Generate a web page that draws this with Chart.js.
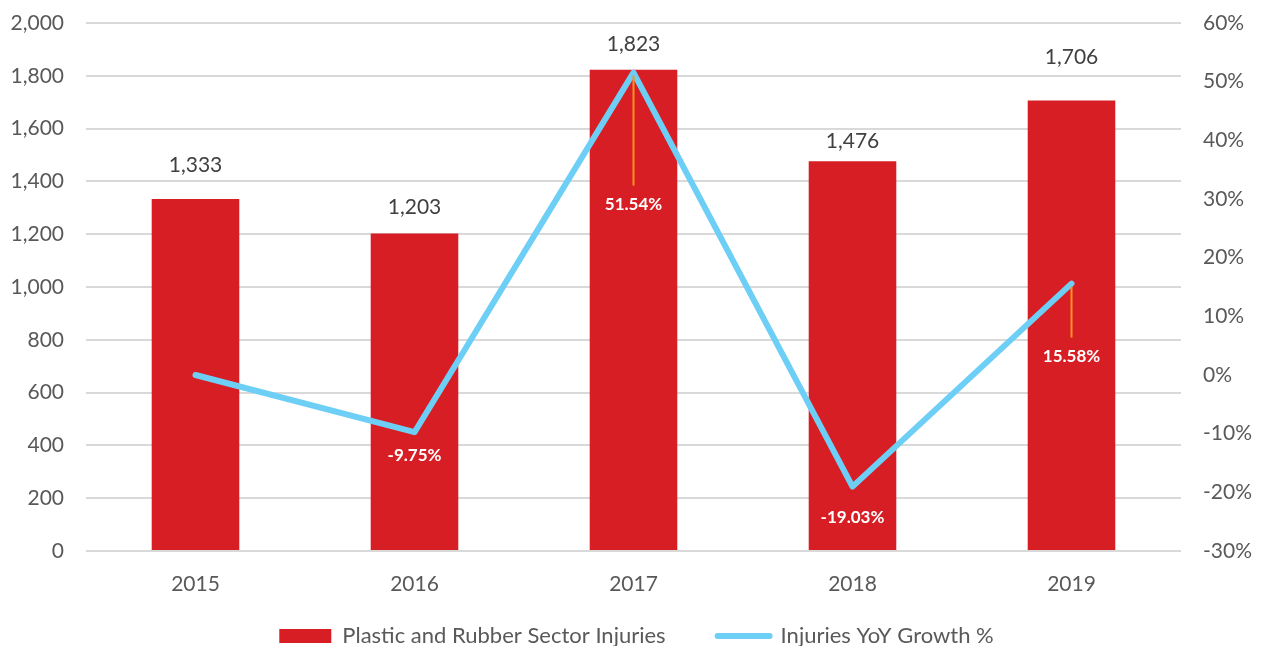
<!DOCTYPE html>
<html><head><meta charset="utf-8">
<script src="https://cdn.jsdelivr.net/npm/chart.js@4"></script>
<style>html,body{margin:0;padding:0;background:#fff}#wrap{width:1261px;height:646px}</style>
</head><body><div id="wrap"><canvas id="c" width="1261" height="646"></canvas></div>
<script>
const categories = ['2015','2016','2017','2018','2019'];
const injuries = [1333, 1203, 1823, 1476, 1706];
const yoyGrowth = [0, -9.75, 51.54, -19.03, 15.58];
const yoyLabels = [null, '-9.75%', '51.54%', '-19.03%', '15.58%'];
const leftTicks = {min:0, max:2000, step:200};
const rightTicks = {min:-30, max:60, step:10};

const FONT = "Lato, 'Open Sans', sans-serif";
// label placement styles (pixel distances of the value labels from their marks)
const barLabelGap = [34, 26, 25, 20, 43];
const lineLabelStyle = [null, {dy:23, leader:false}, {dy:132, leader:true}, {dy:31, leader:false}, {dy:73, leader:true}];
const legendShift = {dx:6, dy:-24};

const labelsPlugin = {
  id:'labels',
  afterLayout(chart){
    const lg = chart.legend;
    if(lg){ lg.top += legendShift.dy; lg.left += legendShift.dx; lg.right += legendShift.dx; }
  },
  afterDatasetsDraw(chart){
    const ctx = chart.ctx;
    const barMeta = chart.getDatasetMeta(1);
    ctx.save();
    ctx.textAlign='center'; ctx.textBaseline='middle';
    ctx.font = "21px " + FONT; ctx.fillStyle='#404040';
    barMeta.data.forEach((b,i)=>{
      ctx.fillText(injuries[i].toLocaleString('en-US'), b.x, b.y-barLabelGap[i]);
    });
    const lineMeta = chart.getDatasetMeta(0);
    lineMeta.data.forEach((p,i)=>{
      const st = lineLabelStyle[i];
      if(!st || !yoyLabels[i]) return;
      if(st.leader){
        ctx.strokeStyle='#F7941D'; ctx.lineWidth=2;
        ctx.beginPath(); ctx.moveTo(p.x, p.y+3); ctx.lineTo(p.x, p.y+st.dy-19); ctx.stroke();
      }
      ctx.font = "bold 17px " + FONT; ctx.fillStyle='#ffffff';
      ctx.fillText(yoyLabels[i], p.x, p.y+st.dy);
    });
    ctx.restore();
  }
};

new Chart(document.getElementById('c'), {
  data:{
    labels:categories,
    datasets:[
      {type:'line', label:'Injuries YoY Growth %', data:yoyGrowth, yAxisID:'y1', borderColor:'#6DCFF6', backgroundColor:'#6DCFF6', borderWidth:6, pointRadius:0, tension:0, borderCapStyle:'round', borderJoinStyle:'round', order:0},
      {type:'bar', label:'Plastic and Rubber Sector Injuries', data:injuries, yAxisID:'y', backgroundColor:'#D71E25', categoryPercentage:1, barPercentage:0.4, order:1}
    ]
  },
  options:{
    responsive:false, animation:false,
    layout:{padding:{top:23, left:0, right:0, bottom:0}},
    plugins:{
      tooltip:{enabled:false},
      legend:{position:'bottom', maxHeight:49, labels:{font:{family:FONT,size:22}, color:'#595959', usePointStyle:true, pointStyleWidth:52, boxHeight:14, padding:52,
        generateLabels(chart){
          return [
            {text:'Plastic and Rubber Sector Injuries', fillStyle:'#D71E25', strokeStyle:'#D71E25', lineWidth:0, pointStyle:'rect', datasetIndex:1, fontColor:'#595959'},
            {text:'Injuries YoY Growth %', fillStyle:'#6DCFF6', strokeStyle:'#6DCFF6', lineWidth:6, lineCap:'round', pointStyle:'line', datasetIndex:0, fontColor:'#595959'}
          ];
        }
      }}
    },
    scales:{
      x:{grid:{display:false}, border:{display:false}, ticks:{font:{family:FONT,size:21}, color:'#595959', padding:13}, afterFit(s){s.height=46;}},
      y:{position:'left', min:leftTicks.min, max:leftTicks.max, ticks:{stepSize:leftTicks.step, font:{family:FONT,size:21}, color:'#595959', padding:22, callback:v=>v.toLocaleString('en-US')},
         grid:{color:'#D9D9D9', lineWidth:2, drawTicks:false}, border:{display:false}, afterFit(s){s.width=86; s.paddingTop=10; s.paddingBottom=10;}},
      y1:{position:'right', min:rightTicks.min, max:rightTicks.max, ticks:{stepSize:rightTicks.step, font:{family:FONT,size:21}, color:'#595959', padding:22, callback:v=>v+'%'},
         grid:{display:false, drawTicks:false}, border:{display:false}, afterFit(s){s.width=80; s.paddingTop=10; s.paddingBottom=10;}}
    }
  },
  plugins:[labelsPlugin]
});
</script></body></html>
